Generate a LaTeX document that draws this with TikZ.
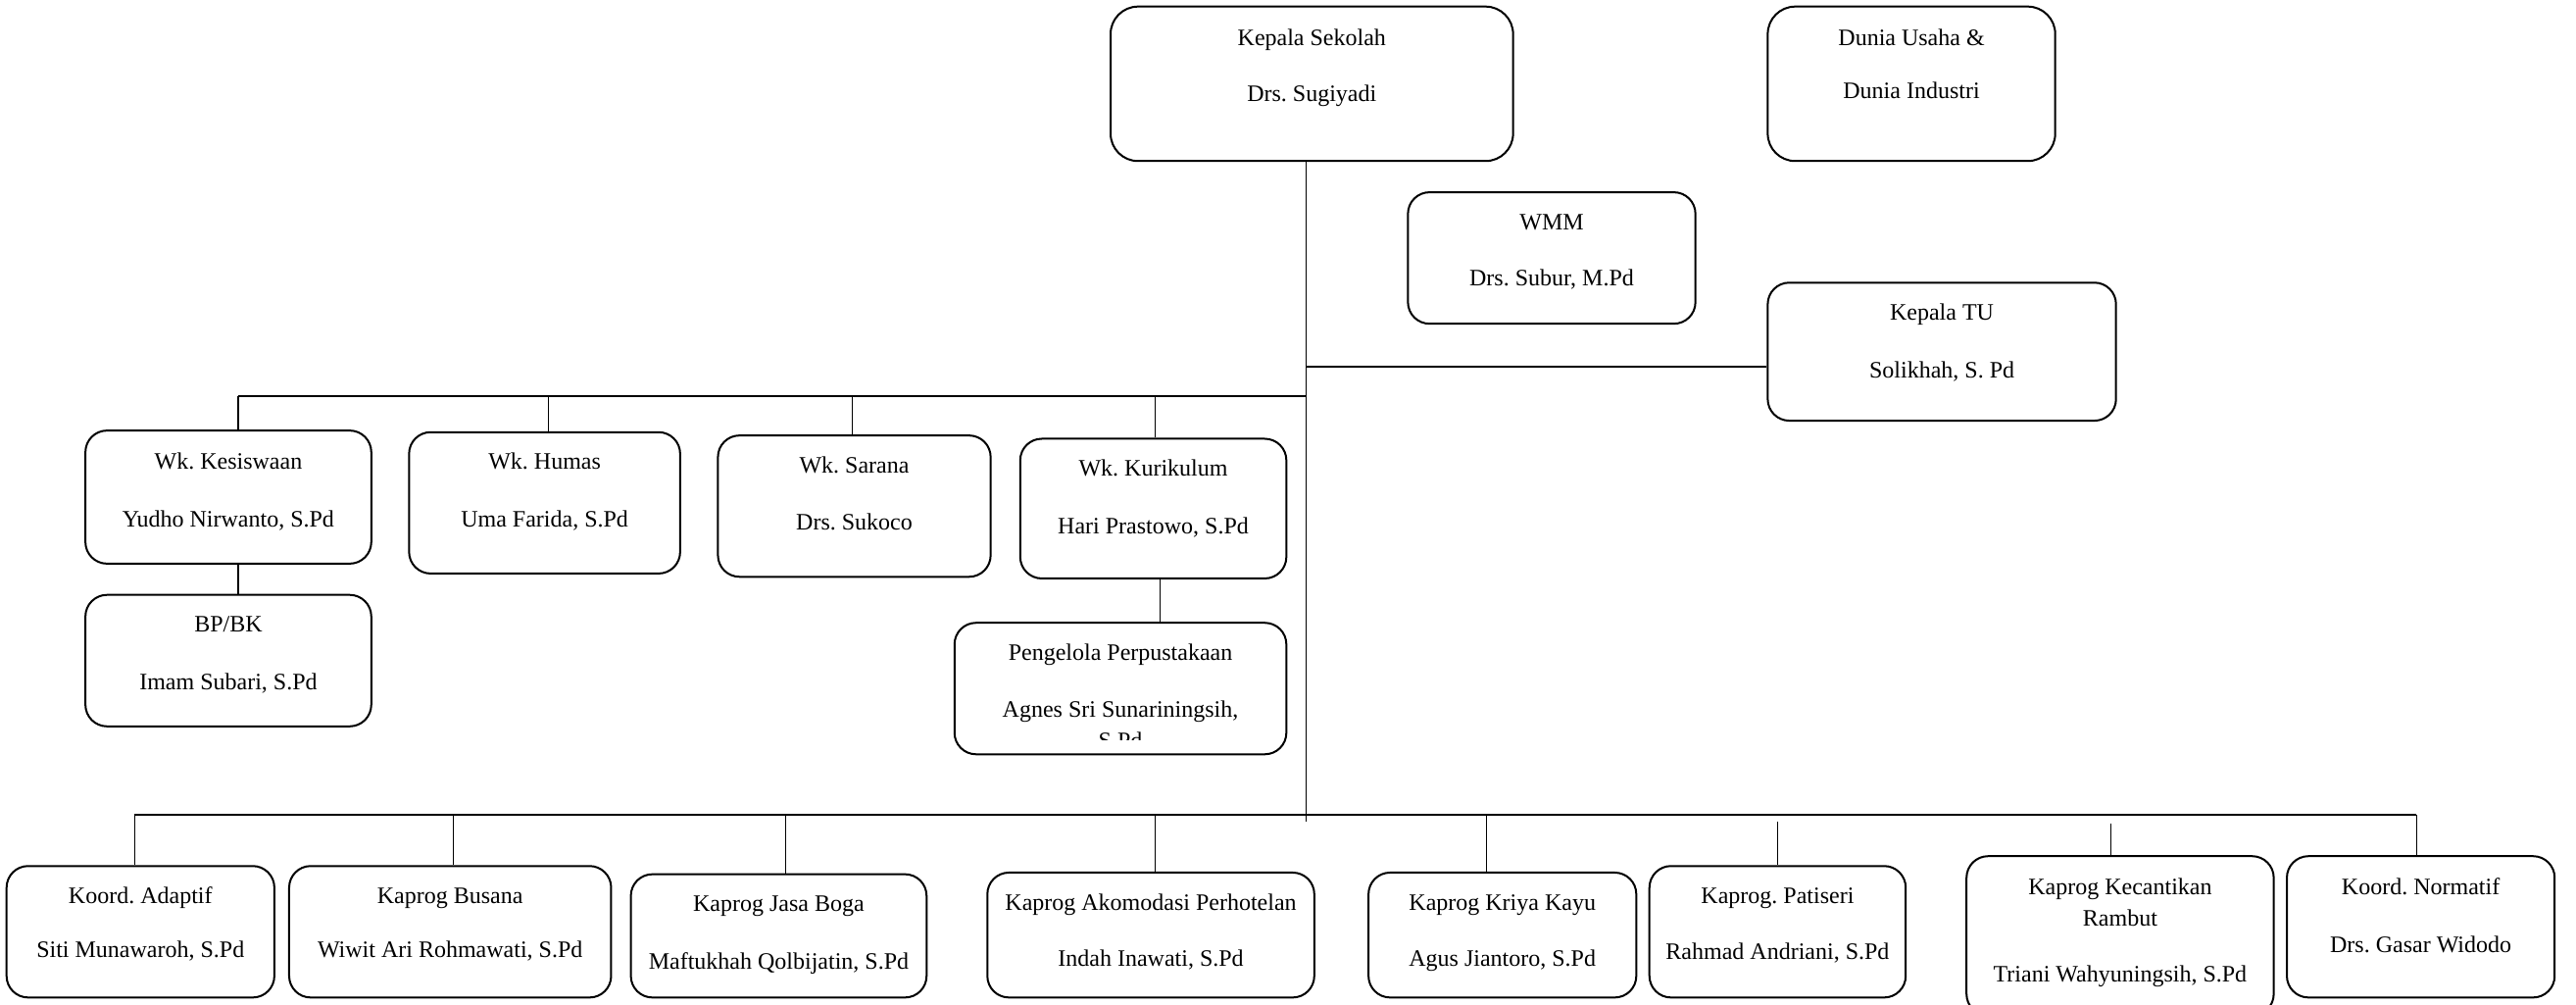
\documentclass[tikz,border=0pt]{standalone}
\usepackage{fontspec}
\setmainfont{Liberation Serif}
\frenchspacing
\usetikzlibrary{fit,calc}
\tikzset{
  orgbox/.style={draw, line width=1pt, rounded corners=11pt, inner sep=0pt},
  topbox/.style={draw, line width=1pt, rounded corners=14pt, inner sep=0pt},
  otxt/.style={inner sep=0pt, anchor=mid, font=\fontsize{12}{14}\selectfont},
  conn/.style={line width=0.6pt},
  bar/.style={line width=1pt}
}
\newcommand\obox[6][orgbox]{\path (#3,#4) coordinate (#2nw) (#5,#6) coordinate (#2se);
  \node[#1, fit=(#2nw)(#2se)] (#2) {};}
\newcommand\otext[4]{\node[otxt] (#1) at ($(#2.center |- 0,#3)+(0,2)$) {#4};}
\begin{document}
\begin{tikzpicture}[x=0.838pt, y=-0.838pt]
\useasboundingbox (0,0) rectangle (1568,611);
% boxes
\obox[topbox]{ks}{676}{4}{921}{98}
\otext{ks1}{ks}{23}{Kepala Sekolah}
\otext{ks2}{ks}{57}{Drs. Sugiyadi}
\obox[topbox]{du}{1076}{4}{1251}{98}
\otext{du1}{du}{23}{Dunia Usaha \&}
\otext{du2}{du}{55}{Dunia Industri}
\obox{wmm}{857}{117}{1032}{197}
\otext{wmm1}{wmm}{135}{WMM}
\otext{wmm2}{wmm}{169}{Drs. Subur, M.Pd}
\obox{tu}{1076}{172}{1288}{256}
\otext{tu1}{tu}{190}{Kepala TU}
\otext{tu2}{tu}{225}{Solikhah, S. Pd}
\obox{wks}{52}{262}{226}{343}
\otext{wks1}{wks}{281}{Wk. Kesiswaan}
\otext{wks2}{wks}{316}{Yudho Nirwanto, S.Pd}
\obox{wkh}{249}{263}{414}{349}
\otext{wkh1}{wkh}{281}{Wk. Humas}
\otext{wkh2}{wkh}{316}{Uma Farida, S.Pd}
\obox{wksr}{437}{265}{603}{351}
\otext{wksr1}{wksr}{283}{Wk. Sarana}
\otext{wksr2}{wksr}{318}{Drs. Sukoco}
\obox{wkk}{621}{267}{783}{352}
\otext{wkk1}{wkk}{285}{Wk. Kurikulum}
\otext{wkk2}{wkk}{320}{Hari Prastowo, S.Pd}
\obox{bpbk}{52}{362}{226}{442}
\otext{bpbk1}{bpbk}{380}{BP/BK}
\otext{bpbk2}{bpbk}{415}{Imam Subari, S.Pd}
\obox{pp}{581}{379}{783}{459}
\otext{pp1}{pp}{397}{Pengelola Perpustakaan}
\otext{pp2}{pp}{432}{Agnes Sri Sunariningsih,}
\begin{scope}
\clip (585,440) rectangle (779,450);
\otext{pp3}{pp}{451}{S.Pd}
\end{scope}
\obox{b1}{4}{527}{167}{607}
\otext{b1a}{b1}{545}{Koord. Adaptif}
\otext{b1b}{b1}{578}{Siti Munawaroh, S.Pd}
\obox{b2}{176}{527}{372}{607}
\otext{b2a}{b2}{545}{Kaprog Busana}
\otext{b2b}{b2}{578}{Wiwit Ari Rohmawati, S.Pd}
\obox{b3}{384}{532}{564}{607}
\otext{b3a}{b3}{550}{Kaprog Jasa Boga}
\otext{b3b}{b3}{585}{Maftukhah Qolbijatin, S.Pd}
\obox{b4}{601}{531}{800}{607}
\otext{b4a}{b4}{549}{Kaprog Akomodasi Perhotelan}
\otext{b4b}{b4}{583}{Indah Inawati, S.Pd}
\obox{b5}{833}{531}{996}{607}
\otext{b5a}{b5}{549}{Kaprog Kriya Kayu}
\otext{b5b}{b5}{583}{Agus Jiantoro, S.Pd}
\obox{b6}{1004}{527}{1160}{607}
\otext{b6a}{b6}{545}{Kaprog. Patiseri}
\otext{b6b}{b6}{579}{Rahmad Andriani, S.Pd}
\obox{b7}{1197}{521}{1384}{618}
\otext{b7a}{b7}{540}{Kaprog Kecantikan}
\otext{b7b}{b7}{559}{Rambut}
\otext{b7c}{b7}{593}{Triani Wahyuningsih, S.Pd}
\obox{b8}{1392}{521}{1555}{607}
\otext{b8a}{b8}{540}{Koord. Normatif}
\otext{b8b}{b8}{575}{Drs. Gasar Widodo}
% connectors
\coordinate (tb) at (795,500);
\draw[conn] (ks.south -| tb) -- (tb);
\coordinate (jtu) at (795,223);
\draw[bar] (jtu) -- (jtu -| tu.west);
\coordinate (jw) at (795,241);
\coordinate (u1) at (145,241);
\coordinate (u2) at (334,241);
\coordinate (u3) at (519,241);
\coordinate (u4) at (703,241);
\draw[bar] (jw) -- (u1);
\foreach \c/\n in {u1/wks,u2/wkh,u3/wksr,u4/wkk} \draw[conn] (\c) -- (\c |- \n.north);
\draw[conn] (wks.south -| u1) -- (bpbk.north -| u1);
\coordinate (pk) at (706,352);
\draw[conn] (wkk.south -| pk) -- (pp.north -| pk);
\coordinate (l1) at (82,496);
\coordinate (l2) at (276,496);
\coordinate (l3) at (478,496);
\coordinate (l4) at (703,496);
\coordinate (l5) at (905,496);
\coordinate (l6) at (1082,500);
\coordinate (l7) at (1285,501);
\coordinate (l8) at (1471,496);
\draw[bar] (l1) -- (l8);
\foreach \c/\n in {l1/b1,l2/b2,l3/b3,l4/b4,l5/b5,l6/b6,l7/b7,l8/b8} \draw[conn] (\c) -- (\c |- \n.north);
\end{tikzpicture}
\end{document}
